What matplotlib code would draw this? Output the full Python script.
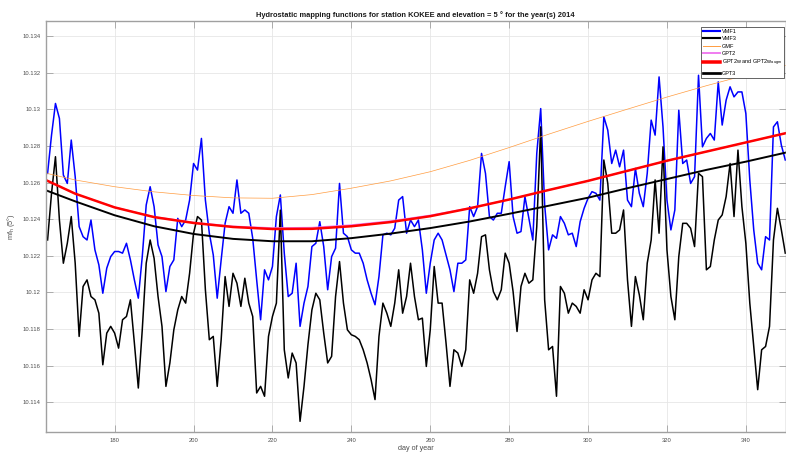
import matplotlib
matplotlib.use('Agg')
import matplotlib.pyplot as plt
import numpy as np
from matplotlib.ticker import FuncFormatter, MultipleLocator

plt.rcParams['font.family'] = ['Liberation Sans', 'DejaVu Sans']
plt.rcParams['mathtext.fontset'] = 'custom'
plt.rcParams['mathtext.rm'] = 'Liberation Sans'
plt.rcParams['mathtext.default'] = 'regular'

# daily values, day of year 163..350
doy = np.arange(163, 351)

vmf1 = [
    10.12651, 10.12860, 10.13033, 10.12951, 10.12642, 10.12596, 10.12833, 10.12633,
    10.12360, 10.12305, 10.12287, 10.12396, 10.12233, 10.12151, 10.11996, 10.12133, 10.12196, 10.12224,
    10.12224, 10.12215, 10.12269, 10.12178, 10.12069, 10.11969, 10.12196, 10.12478, 10.12578, 10.12469,
    10.12260, 10.12196, 10.12005, 10.12142, 10.12178, 10.12405, 10.12360, 10.12396, 10.12505, 10.12705,
    10.12669, 10.12842, 10.12505, 10.12324, 10.12205, 10.11969, 10.12178, 10.12378, 10.12469, 10.12433,
    10.12615, 10.12433, 10.12451, 10.12433, 10.12296, 10.12069, 10.11851, 10.12124, 10.12069, 10.12142,
    10.12415, 10.12533, 10.12215, 10.11978, 10.11996, 10.12160, 10.11815, 10.11942, 10.12033, 10.12251,
    10.12269, 10.12387, 10.12251, 10.12015, 10.12196, 10.12242, 10.12596, 10.12324, 10.12305, 10.12233,
    10.12215, 10.12215, 10.12160, 10.12069, 10.11996, 10.11933, 10.12087, 10.12315, 10.12324, 10.12315,
    10.12351, 10.12505, 10.12524, 10.12324, 10.12396, 10.12360, 10.12396, 10.12233, 10.11996, 10.12160,
    10.12287, 10.12324, 10.12287, 10.12205, 10.12124, 10.12005, 10.12160, 10.12160, 10.12178, 10.12469,
    10.12415, 10.12469, 10.12760, 10.12651, 10.12415, 10.12396, 10.12433, 10.12433, 10.12578, 10.12715,
    10.12415, 10.12324, 10.12333, 10.12524, 10.12405, 10.12287, 10.12760, 10.13005, 10.12478, 10.12233,
    10.12315, 10.12296, 10.12415, 10.12378, 10.12315, 10.12324, 10.12251, 10.12387, 10.12460, 10.12515,
    10.12551, 10.12542, 10.12505, 10.12960, 10.12887, 10.12705, 10.12778, 10.12687, 10.12778, 10.12505,
    10.12469, 10.12678, 10.12542, 10.12469, 10.12651, 10.12942, 10.12860, 10.13178, 10.12905, 10.12505,
    10.12342, 10.12451, 10.12996, 10.12705, 10.12724, 10.12596, 10.12633, 10.13187, 10.12796, 10.12842,
    10.12869, 10.12833, 10.13151, 10.12915, 10.13051, 10.13124, 10.13069, 10.13096, 10.13096, 10.12978,
    10.12615, 10.12342, 10.12160, 10.12124, 10.12305, 10.12287, 10.12905, 10.12933, 10.12805, 10.12724,
]

vmf3 = [
    10.12287, 10.12542, 10.12742, 10.12396, 10.12160, 10.12269, 10.12415, 10.12160,
    10.11760, 10.12033, 10.12069, 10.11978, 10.11960, 10.11887, 10.11605, 10.11778, 10.11815, 10.11778,
    10.11696, 10.11851, 10.11869, 10.11960, 10.11724, 10.11478, 10.11796, 10.12160, 10.12287, 10.12187,
    10.11978, 10.11815, 10.11487, 10.11615, 10.11796, 10.11905, 10.11978, 10.11942, 10.12105, 10.12324,
    10.12415, 10.12396, 10.12015, 10.11742, 10.11760, 10.11487, 10.11742, 10.12087, 10.11924, 10.12105,
    10.12051, 10.11924, 10.12078, 10.11942, 10.11869, 10.11451, 10.11487, 10.11433, 10.11760, 10.11869,
    10.11942, 10.12450, 10.11687, 10.11533, 10.11669, 10.11615, 10.11296, 10.11487, 10.11715, 10.11905,
    10.11996, 10.11960, 10.11778, 10.11615, 10.11651, 10.11978, 10.12169, 10.11942, 10.11796, 10.11769,
    10.11760, 10.11742, 10.11687, 10.11615, 10.11524, 10.11415, 10.11760, 10.11942, 10.11887, 10.11815,
    10.11942, 10.12124, 10.11887, 10.11978, 10.12160, 10.11978, 10.11851, 10.11860, 10.11596, 10.11796,
    10.12142, 10.11942, 10.11942, 10.11724, 10.11487, 10.11687, 10.11669, 10.11596, 10.11687, 10.12069,
    10.11996, 10.12105, 10.12305, 10.12315, 10.12124, 10.12005, 10.11960, 10.12015, 10.12215, 10.12160,
    10.12005, 10.11787, 10.12033, 10.12105, 10.12051, 10.12069, 10.12360, 10.12905, 10.11960, 10.11687,
    10.11705, 10.11433, 10.12033, 10.11996, 10.11887, 10.11942, 10.11924, 10.11887, 10.12015, 10.11960,
    10.12069, 10.12105, 10.12087, 10.12724, 10.12596, 10.12324, 10.12324, 10.12342, 10.12451, 10.12069,
    10.11815, 10.12087, 10.11987, 10.11851, 10.12160, 10.12287, 10.12615, 10.12324, 10.12796, 10.12233,
    10.11978, 10.11851, 10.12196, 10.12378, 10.12378, 10.12351, 10.12251, 10.12651, 10.12633, 10.12124,
    10.12142, 10.12287, 10.12396, 10.12424, 10.12524, 10.12705, 10.12415, 10.12778, 10.12469, 10.12269,
    10.11942, 10.11705, 10.11469, 10.11687, 10.11705, 10.11815, 10.12287, 10.12460, 10.12342, 10.12215,
]

# empirical models, sampled every 10 days
model_doy = [163, 170, 180, 190, 200, 210, 220, 230, 240, 250,
             260, 270, 280, 290, 300, 310, 320, 330, 340, 350]
gmf = [10.12650, 10.12615, 10.12578, 10.12550, 10.12530, 10.12517, 10.12515, 10.12535, 10.12570, 10.12610,
       10.12660, 10.12722, 10.12792, 10.12865, 10.12935, 10.13002, 10.13068, 10.13130, 10.13188, 10.13240]
gpt2 = [10.12610, 10.12540, 10.12466, 10.12414, 10.12383, 10.12362, 10.12353, 10.12355, 10.12369, 10.12391,
        10.12422, 10.12462, 10.12508, 10.12560, 10.12610, 10.12665, 10.12720, 10.12770, 10.12820, 10.12870]
gpt2w = [10.12610, 10.12540, 10.12465, 10.12412, 10.12380, 10.12358, 10.12347, 10.12348, 10.12362, 10.12385,
         10.12417, 10.12460, 10.12508, 10.12560, 10.12610, 10.12665, 10.12720, 10.12770, 10.12820, 10.12870]
gpt3 = [10.12555, 10.12498, 10.12422, 10.12362, 10.12320, 10.12293, 10.12280, 10.12280, 10.12297, 10.12322,
        10.12352, 10.12388, 10.12430, 10.12474, 10.12518, 10.12570, 10.12620, 10.12670, 10.12715, 10.12764]

fig = plt.figure(figsize=(7.86, 4.54), dpi=100)
ax = fig.add_axes([46 / 786, 22 / 454, 739.5 / 786, 411 / 454])

ax.plot(doy, vmf1, color='#0000ff', linewidth=1.1, label='VMF1')
ax.plot(doy, vmf3, color='k', linewidth=1.1, label='VMF3')
ax.plot(model_doy, gmf, color='#ff9c40', linewidth=0.5, label='GMF')
ax.plot(model_doy, gpt2, color='#f07cf0', linewidth=1.0, label='GPT2')
ax.plot(model_doy, gpt2w, color='#ff0000', linewidth=1.8, label='GPT2w and GPT2w$_{augm}$')
ax.plot(model_doy, gpt3, color='k', linewidth=1.4, label='GPT3')

ax.set_xlim(162.6, 350.05)
ax.set_ylim(10.112377, 10.134836)
ax.xaxis.set_major_locator(MultipleLocator(20))
ax.yaxis.set_major_locator(MultipleLocator(0.002))
ax.yaxis.set_major_formatter(FuncFormatter(lambda v, p: ('%.3f' % v).rstrip('0')))

ax.grid(True, color='#e6e6e6', linewidth=0.6)
ax.set_axisbelow(True)
for s in ax.spines.values():
    s.set_color('#a0a0a0')
    s.set_linewidth(1.0)
ax.tick_params(direction='in', length=5, width=0.6, color='#a0a0a0',
               top=True, right=True, labelsize=4.2, labelcolor='#4d4d4d', pad=4)

ax.set_title('Hydrostatic mapping functions for station KOKEE and elevation = 5 ° for the year(s) 2014',
             fontsize=5.4, fontweight='bold', pad=3, color='#1a1a1a')
ax.set_xlabel('day of year', fontsize=5.2, color='#4d4d4d', labelpad=2)
ax.set_ylabel('mf$_h$ (5°)', fontsize=5.2, color='#4d4d4d', labelpad=4)

leg = ax.legend(loc='upper right', bbox_to_anchor=((784 - 46) / 739.5, 1 - 6 / 411),
                borderaxespad=0, fontsize=4, handlelength=3.0, handletextpad=0.3,
                labelspacing=0.4, borderpad=0.4, fancybox=False, framealpha=1)
leg.get_frame().set_edgecolor('#262626')
leg.get_frame().set_linewidth(0.5)
for line in leg.get_lines():
    line.set_linewidth(line.get_linewidth() * 1.4)

fig.savefig('out.png', dpi=100)
